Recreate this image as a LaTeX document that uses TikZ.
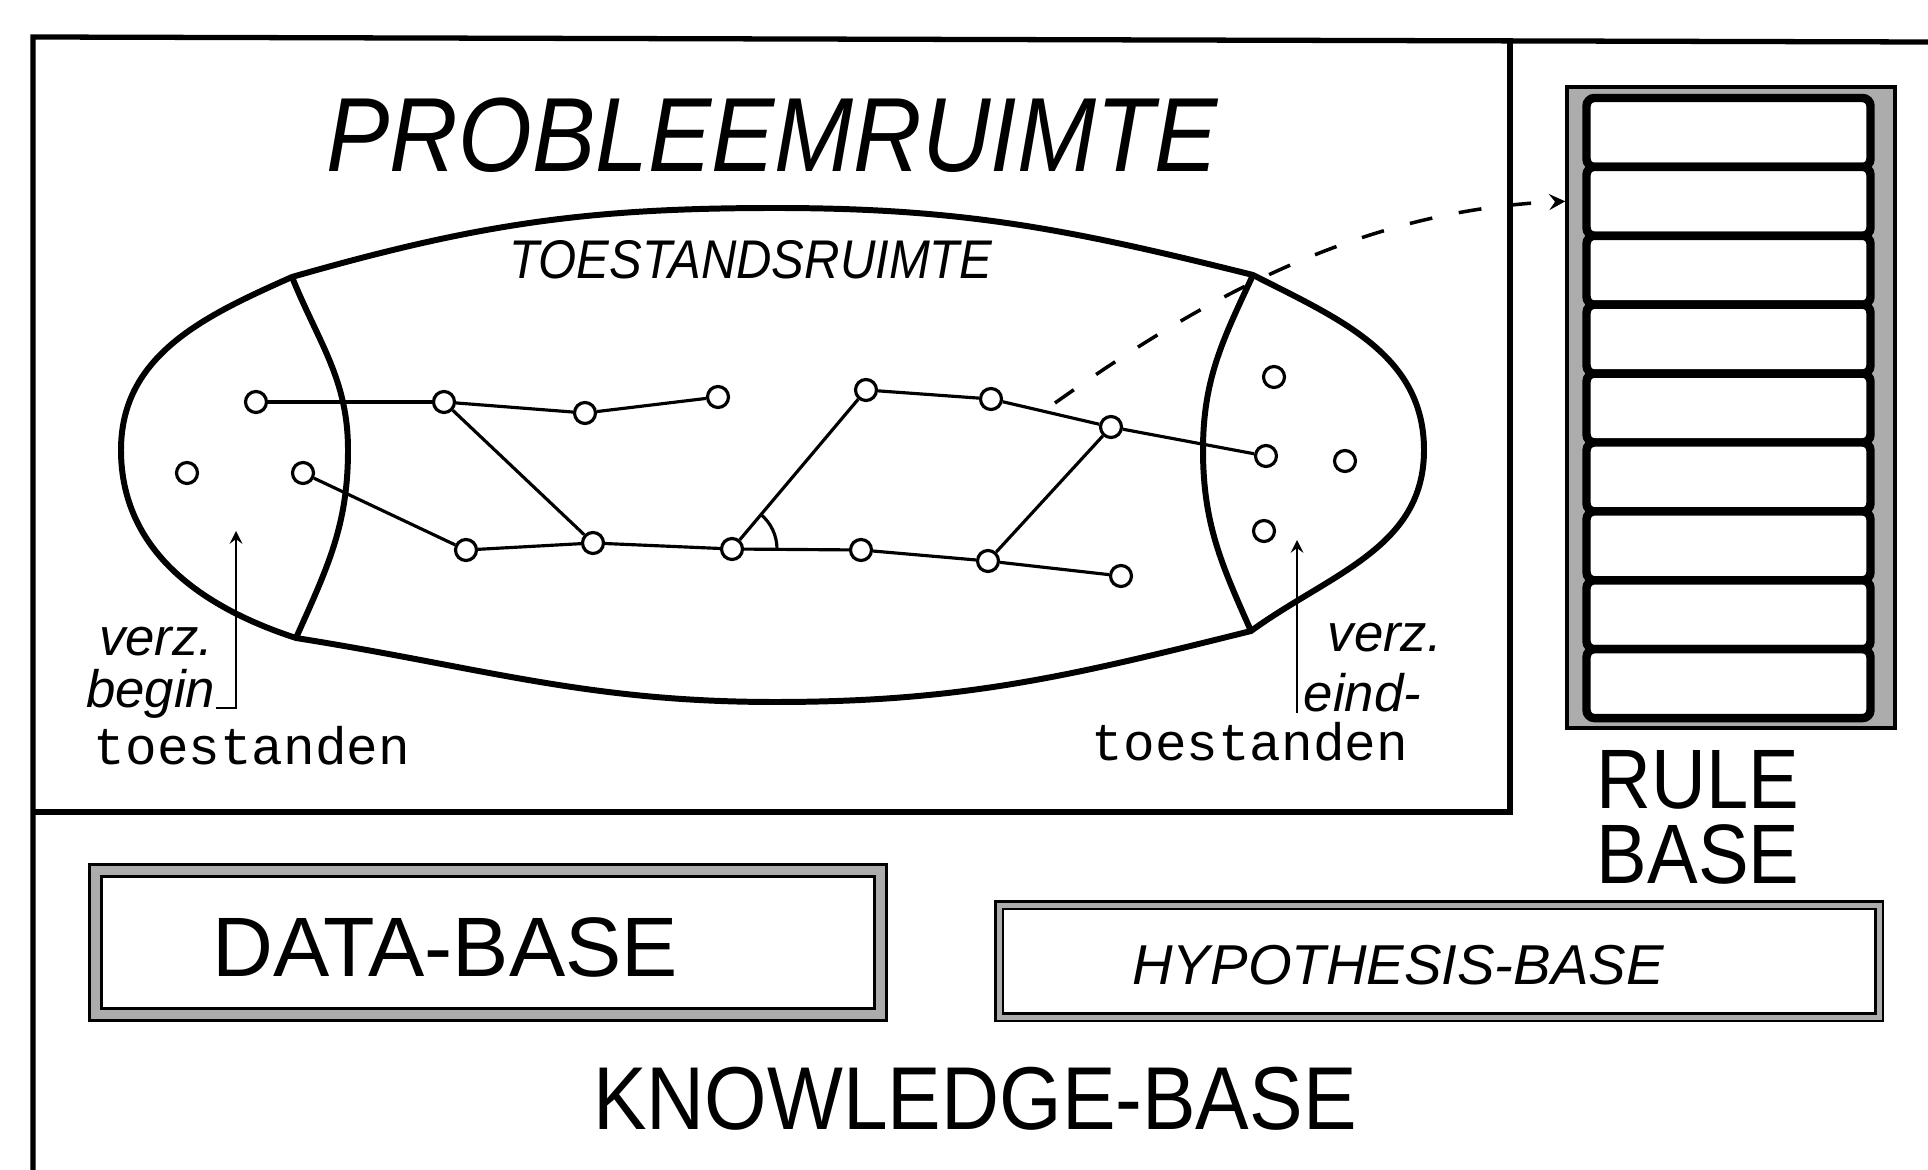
\documentclass[tikz,border=0pt]{standalone}
\usepackage{fontspec}
\setmainfont{Liberation Sans}
\setmonofont{Liberation Mono}
\newfontfamily\smalsf[FakeStretch=0.9]{Liberation Sans}
\usepackage{tikz}

\tikzset{
  toestand/.style={circle,draw,line width=0.9pt,fill=white,minimum size=0.21cm,inner sep=0pt},
  kader/.style={line width=1.5pt},
  rand/.style={line width=1.7pt},
  boog/.style={line width=0.9pt},
  pijl/.style={line width=0.6pt},
  linkdash/.style={line width=1pt,dash pattern=on 0.23cm off 0.27cm},
  regel/.style={draw,line width=2.4pt,fill=white,rounded corners=0.08cm,
    minimum width=2.84cm,minimum height=0.689cm,inner sep=0pt},
  lbl/.style={font=\fontsize{15}{16}\selectfont\itshape,inner sep=0pt},
  mono/.style={font=\fontsize{15}{16}\selectfont\ttfamily,inner sep=0pt},
  groot/.style={font=\fontsize{24}{26}\selectfont\smalsf,inner sep=0pt},
}

\begin{document}
\begin{tikzpicture}[>=stealth,scale=1]
	  \useasboundingbox (0,0) rectangle (19.28,-11.70);
	  % kaders
	  \draw[kader] (0.33,-11.70) -- (0.33,-0.37) -- (19.28,-0.42);
	  \draw[kader] (15.10,-0.38) -- (15.10,-8.12) -- (0.33,-8.12);
	  % toestandsruimte
	  \coordinate (LT) at (2.92,-2.77);
	  \coordinate (RT) at (12.53,-2.75);
	  \coordinate (RB) at (12.51,-6.31);
	  \coordinate (LB) at (2.96,-6.38);
	  \draw[rand] (LT) to[out=16,in=180] (7.75,-2.08) to[out=0,in=166] (RT)
	    to[out=-27,in=90] (14.24,-4.50) to[out=-90,in=36] (RB)
	    to[out=194,in=0] (7.75,-7.02) to[out=180,in=-9] (LB)
	    to[out=162,in=-90] (1.21,-4.50) to[out=90,in=204] (LT);
	  \draw[rand] (LT) to[out=-68,in=90] (3.48,-4.50) to[out=-90,in=66] (LB);
	  \draw[rand] (RT) to[out=-115,in=90] (12.03,-4.50) to[out=-90,in=114] (RB);
	  \node[font=\fontsize{30}{32}\selectfont\smalsf\itshape] (pr) at (7.72,-1.35) {PROBLEEMRUIMTE};
	  \node[font=\fontsize{15.5}{16}\selectfont\smalsf\itshape] (tr) at (7.51,-2.60) {TOESTANDSRUIMTE};
	  % toestanden
	  \node[toestand] (p1) at (2.56,-4.02) {};
	  \node[toestand] (p2) at (4.44,-4.02) {};
	  \node[toestand] (p3) at (5.85,-4.13) {};
	  \node[toestand] (p4) at (7.18,-3.97) {};
	  \node[toestand] (p5) at (1.87,-4.73) {};
	  \node[toestand] (p6) at (3.03,-4.73) {};
	  \node[toestand] (p7) at (4.66,-5.50) {};
	  \node[toestand] (p8) at (5.93,-5.43) {};
	  \node[toestand] (p9) at (7.32,-5.49) {};
	  \node[toestand] (p10) at (8.61,-5.50) {};
	  \node[toestand] (p11) at (9.88,-5.61) {};
	  \node[toestand] (p12) at (11.21,-5.76) {};
	  \node[toestand] (p13) at (8.66,-3.90) {};
	  \node[toestand] (p14) at (9.91,-3.99) {};
	  \node[toestand] (p15) at (11.11,-4.27) {};
	  \node[toestand] (p16) at (12.74,-3.77) {};
	  \node[toestand] (p17) at (12.66,-4.56) {};
	  \node[toestand] (p18) at (13.45,-4.61) {};
	  \node[toestand] (p19) at (12.64,-5.31) {};
	  \draw[boog] (p1) -- (p2);
	  \draw[boog] (p2) -- (p3);
	  \draw[boog] (p3) -- (p4);
	  \draw[boog] (p2) -- (p8);
	  \draw[boog] (p6) -- (p7);
	  \draw[boog] (p7) -- (p8);
	  \draw[boog] (p8) -- (p9);
	  \draw[boog] (p9) -- (p10);
	  \draw[boog] (p10) -- (p11);
	  \draw[boog] (p11) -- (p12);
	  \draw[boog] (p9) -- (p13);
	  \draw[boog] (p13) -- (p14);
	  \draw[boog] (p14) -- (p15);
	  \draw[boog] (p15) -- (p17);
	  \draw[boog] (p15) -- (p11);
	  \draw[boog] ([shift={(0:0.45)}]p9.center) arc[start angle=0,end angle=50,radius=0.45];
	  % begin- en eindtoestanden
	  \node[lbl,anchor=east] (vb) at (2.14,-6.42) {verz.};
	  \node[lbl,anchor=east] (bg) at (2.16,-6.94) {begin};
	  \node[mono] (tb) at (2.52,-7.46) {toestanden};
	  \coordinate (ab) at (2.36,-5.31);
	  \draw[pijl,->] (bg.base east) -| (ab);
	  \node[lbl,anchor=west] (ve) at (13.27,-6.38) {verz.};
	  \node[lbl,anchor=west] (ei) at (13.03,-6.93) {eind-};
	  \node[mono] (te) at (12.50,-7.42) {toestanden};
	  \coordinate (ae) at (12.97,-5.40);
	  \draw[pijl,->] (ae |- ei.south) -- (ae);
	  % rule base
	  \node[draw,line width=1pt,fill=gray!65,minimum width=3.28cm,minimum height=6.41cm,inner sep=0pt] (rb) at (17.31,-4.075) {};
	  \foreach \i in {1,...,9}
	    \node[regel] (r\i) at (17.285,{-0.98-0.689*(\i-0.5)}) {};
	  \node[groot] (rl) at (16.98,-7.80) {RULE};
	  \node[groot] (bs) at (16.98,-8.54) {BASE};
	  \coordinate (ds) at (10.55,-4.03);
	  \draw[linkdash,->] (ds) .. controls (12.0,-3.0) and (13.6,-2.1) .. (rb.west |- r2);
	  % knowledge base
	  \node[draw,line width=0.9pt,double=gray!65,double distance=0.09cm,minimum width=7.85cm,minimum height=1.44cm,inner sep=0pt] (db) at (4.88,-9.425) {};
	  \node[font=\fontsize{24}{26}\selectfont] (dbt) at (4.45,-9.47) {DATA-BASE};
	  \node[draw,line width=0.8pt,double=gray!65,double distance=0.05cm,minimum width=8.8cm,minimum height=1.12cm,inner sep=0pt] (hb) at (14.39,-9.61) {};
	  \node[font=\fontsize{16}{18}\selectfont\itshape] (hbt) at (13.98,-9.65) {HYPOTHESIS-BASE};
	  \node[font=\fontsize{25.4}{27}\selectfont\smalsf] (kbt) at (9.75,-10.99) {KNOWLEDGE-BASE};
	\end{tikzpicture}
\end{document}
